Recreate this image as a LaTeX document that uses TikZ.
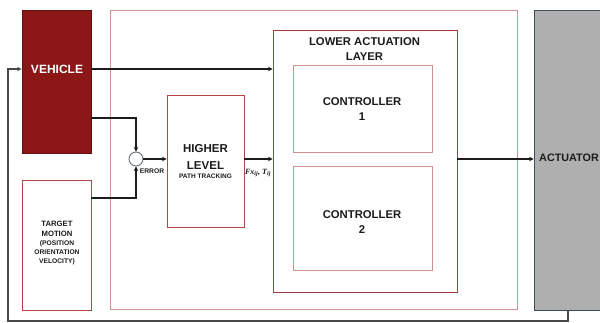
\documentclass[tikz,border=0pt]{standalone}
\usepackage{fontspec}
\setmainfont{Liberation Sans}[BoldFont={Liberation Sans Bold}]
\newfontfamily\mathlike{Liberation Serif}[BoldItalicFont={Liberation Serif Bold Italic}]
\usetikzlibrary{arrows.meta}
\definecolor{vehred}{HTML}{8B1717}
\definecolor{boxred}{HTML}{B54545}
\definecolor{lightred}{HTML}{D49090}
\definecolor{ink}{HTML}{1C1C1C}
\definecolor{actgray}{HTML}{AFAFAF}
\definecolor{slate}{HTML}{3E4E58}
\tikzset{
  box/.style={draw=boxred, line width=0.9pt, fill=white, inner sep=0pt},
  softbox/.style={draw=lightred, line width=0.9pt, fill=white, inner sep=0pt},
  lbl/.style={text=ink, inner sep=0pt, align=center},
  wire/.style={draw=ink, line width=1.1pt},
  arr/.style={wire, -{Stealth[length=4.5pt,width=4.5pt]}},
}
\newcommand{\bsz}[2]{\fontsize{#1}{#2}\selectfont\bfseries}
\begin{document}
\begin{tikzpicture}[x=1pt, y=-1pt]
\useasboundingbox (0,0) rectangle (600,322);
\fill[white] (0,0) rectangle (600,322);

% blocks
\node[softbox, minimum width=407pt, minimum height=299pt] (outer) at (313.5,159.5) {};
\node[draw=vehred!70!black, line width=0.9pt, fill=vehred, inner sep=0pt,
      minimum width=69pt, minimum height=143pt] (veh) at (56.5,81.5) {};
\node[box, minimum width=69pt, minimum height=130pt] (tgt) at (56.5,245) {};
\node[box, minimum width=77pt, minimum height=132pt] (high) at (205.5,161) {};
\node[box, draw=boxred!90!black, minimum width=184pt, minimum height=262pt] (low) at (365,161) {};
\node[softbox, minimum width=139pt, minimum height=87pt] (c1) at (362.5,108.5) {};
\node[softbox, minimum width=139pt, minimum height=104pt] (c2) at (362.5,218) {};
\node[draw=slate, line width=0.9pt, fill=actgray, inner sep=0pt,
      minimum width=90pt, minimum height=300pt] (act) at (579,160) {};
\node[circle, draw=slate!80, line width=0.9pt, fill=white, minimum size=14pt, inner sep=0pt] (sum) at (136,159) {};

% texts
\node[lbl, text=white, font=\bsz{12}{14}] (tveh) at (57,69) {VEHICLE};
\node[lbl, font=\bsz{11.3}{15}] (tlow) at (364.5,49.5) {LOWER ACTUATION\\LAYER};
\node[lbl, font=\bsz{11.3}{15}] (tc1) at (362,109.5) {CONTROLLER\\1};
\node[lbl, font=\bsz{11.3}{15}] (tc2) at (362,222) {CONTROLLER\\2};
\node[lbl, font=\bsz{11.5}{17}] (thigh) at (205.5,156.5) {HIGHER\\LEVEL};
\node[lbl, font=\bsz{6.5}{8}] (tpath) at (205.5,176.5) {PATH TRACKING};
\node[lbl, font=\bsz{7.7}{10}] (ttgt) at (57,229) {TARGET\\MOTION};
\node[lbl, font=\bsz{6.7}{9}] (tpos) at (57,253) {(POSITION\\ORIENTATION\\VELOCITY)};
\node[lbl, font=\bsz{6.7}{8}] (terr) at (152,171) {ERROR};
\node[lbl, font={\fontsize{8}{9}\selectfont\mathlike\bfseries\itshape}] (tf) at (258,173)
  {Fx\textsubscript{ij}, T\textsubscript{ij}};
\node[lbl, anchor=west, font=\bsz{10.8}{14}] (tact) at (539,157.5) {ACTUATOR};

% signal paths
\draw[arr] (veh.east |- tveh) -- (low.west |- tveh);
\draw[arr] (veh.east |- 0,118) -| (sum.north);
\draw[arr] (tgt.east |- 0,198) -| (sum.south);
\draw[arr] (sum.east) -- (high.west |- sum);
\draw[arr] (high.east |- sum) -- (low.west |- sum);
\draw[arr] (low.east |- sum) -- (act.west |- sum);

% feedback from actuator back to vehicle
\coordinate (fbR) at (568,321);
\coordinate (fbL) at (8,321);
\draw[arr, draw=ink!80] (act.south -| fbR) -- (fbR) -- (fbL) |- (veh.west |- tveh);
\end{tikzpicture}
\end{document}
